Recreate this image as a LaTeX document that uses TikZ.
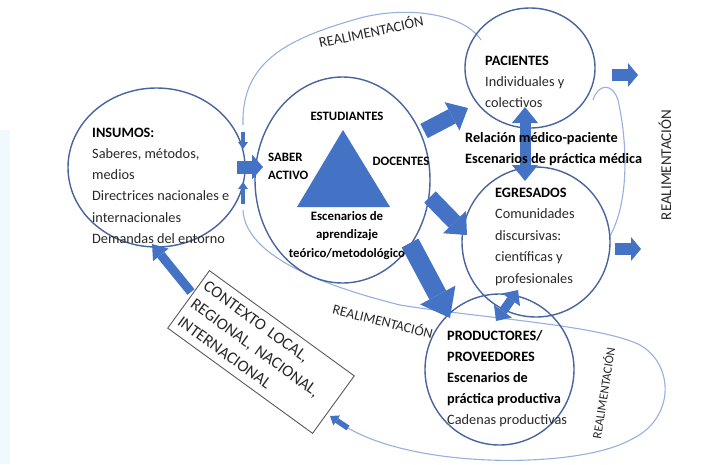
\documentclass[tikz,border=0pt]{standalone}
\usepackage{fontspec}
\setmainfont{Carlito}
\usetikzlibrary{shapes.geometric,arrows.meta}
\definecolor{ablue}{RGB}{68,114,196}
\definecolor{cline}{RGB}{72,100,158}
\definecolor{fline}{RGB}{150,176,222}
\definecolor{tgray}{RGB}{40,40,40}
\begin{document}
\begin{tikzpicture}[x=1pt,y=-1pt,
  circ/.style={draw=cline, line width=1.4pt, ellipse, inner sep=0pt},
  fb/.style={draw=fline, line width=1.1pt},
  txt/.style={anchor=base west, inner sep=0pt, text=tgray, font=\fontsize{14.3}{17}\selectfont},
  btxt/.style={anchor=base west, inner sep=0pt, text=black, font=\fontsize{14.3}{17}\selectfont\bfseries},
  mtxt/.style={anchor=base, inner sep=0pt, text=black, font=\fontsize{12.8}{15}\selectfont\bfseries},
  lbl/.style={inner sep=0pt, text=tgray, font=\fontsize{#1}{#1}\selectfont},
  barrow/.style n args={3}{draw=ablue, line width=#1, -{Triangle[width=#2, length=#3, line width=0pt]}},
  dbarrow/.style n args={3}{draw=ablue, line width=#1, {Triangle[width=#2, length=#3, line width=0pt]}-{Triangle[width=#2, length=#3, line width=0pt]}}
]
\useasboundingbox (0,0) rectangle (704,464);
\fill[cyan!6] (0,130) rectangle (10,464);

% feedback curves
\coordinate (ft0) at (243,125);
\coordinate (ft1) at (481,40);
\draw[fb] (ft0) .. controls (241,60) and (290,38) .. (360,18) .. controls (410,5) and (465,15) .. (ft1);
\coordinate (fr0) at (593,100);
\coordinate (fr1) at (610,236);
\draw[fb] (fr0) .. controls (598,84) and (612,82) .. (618,100) .. controls (627,140) and (630,200) .. (fr1);
\coordinate (fb0) at (243,210);
\coordinate (fb1) at (348,428);
\draw[fb] (fb0) .. controls (245,255) and (320,285) .. (400,305) .. controls (480,318) and (600,325) .. (640,345) .. controls (675,365) and (675,420) .. (630,440) .. controls (580,468) and (420,470) .. (fb1);

% circles
\node[circ, minimum width=177pt, minimum height=159pt] (ins) at (156.5,167.5) {};
\node[circ, minimum width=175pt, minimum height=206pt] (mid) at (342.5,180) {};
\node[circ, minimum width=130pt, minimum height=120pt] (pac) at (530,68) {};
\node[circ, minimum width=148pt, minimum height=150pt] (egr) at (536,242) {};
\node[circ, minimum width=149pt, minimum height=151pt] (prod) at (499.5,369.5) {};

% triangle
\fill[ablue] (343,130) -- (297,207) -- (390,207) -- cycle;

% context box
\node[draw=black!65, line width=0.9pt, rotate=-36, minimum width=179pt, minimum height=71pt,
      align=left, text width=169pt, inner sep=5pt, text=tgray,
      font=\fontsize{16.5}{22}\selectfont] (ctx) at (261,352)
  {CONTEXTO LOCAL,\\REGIONAL, NACIONAL,\\INTERNACIONAL};

% arrow end points
\coordinate (a1s) at (237,167);  \coordinate (a1e) at (263,167);
\coordinate (a2s) at (243,132);  \coordinate (a2e) at (243,149);
\coordinate (a3s) at (243,204);  \coordinate (a3e) at (243,182);
\coordinate (a4s) at (424,131);  \coordinate (a4e) at (468,108);
\coordinate (a5s) at (430,197);  \coordinate (a5e) at (467,235);
\coordinate (a6s) at (410,243);  \coordinate (a6e) at (450,318);
\coordinate (a7s) at (612,75);   \coordinate (a7e) at (638,75);
\coordinate (a8s) at (615,249);  \coordinate (a8e) at (641,249);
\coordinate (a9s) at (525,107);  \coordinate (a9e) at (525,181);
\coordinate (a10s) at (496,321); \coordinate (a10e) at (518,290);
\coordinate (a11s) at (191,292); \coordinate (a11e) at (152,244);
\coordinate (a12e) at (330,416);

\draw[barrow={13pt}{25pt}{11pt}] (a1s) -- (a1e);
\draw[barrow={4.5pt}{10pt}{7pt}] (a2s) -- (a2e);
\draw[barrow={4.5pt}{10pt}{7pt}] (a3s) -- (a3e);
\draw[barrow={16pt}{32pt}{18pt}] (a4s) -- (a4e);
\draw[barrow={16pt}{32pt}{18pt}] (a5s) -- (a5e);
\draw[barrow={19pt}{40pt}{26pt}] (a6s) -- (a6e);
\draw[barrow={12pt}{24pt}{10pt}] (a7s) -- (a7e);
\draw[barrow={12pt}{24pt}{10pt}] (a8s) -- (a8e);
\draw[dbarrow={11pt}{26pt}{16pt}] (a9s) -- (a9e);
\draw[dbarrow={9pt}{22pt}{12pt}] (a10s) -- (a10e);
\draw[barrow={9pt}{20pt}{14pt}] (a11s) -- (a11e);
\draw[barrow={5.5pt}{12pt}{8pt}] (fb1) -- (a12e);

% INSUMOS text
\node[btxt] (i1) at (92,137) {INSUMOS:};
\node[txt] (i2) at (92,158.5) {Saberes, métodos,};
\node[txt] (i3) at (92,179.5) {medios};
\node[txt] (i4) at (92,200.5) {Directrices nacionales e};
\node[txt] (i5) at (92,222) {internacionales};
\node[txt] (i6) at (92,243) {Demandas del entorno};

% middle circle text
\node[mtxt] (m1) at (347,120) {ESTUDIANTES};
\node[mtxt, anchor=base west] (m2) at (268,161.5) {SABER};
\node[mtxt, anchor=base west] (m3) at (268,179.5) {ACTIVO};
\node[mtxt] (m4) at (401,165.5) {DOCENTES};
\node[mtxt] (m5) at (347,220) {Escenarios de};
\node[mtxt] (m6) at (347,238.5) {aprendizaje};
\node[mtxt] (m7) at (347,257) {teórico/metodológico};

% PACIENTES
\node[btxt] (p1) at (485,65) {PACIENTES};
\node[txt] (p2) at (485,86) {Individuales y};
\node[txt] (p3) at (485,107) {colectivos};
\node[btxt] (r1) at (465,142) {Relación médico-paciente};
\node[btxt] (r2) at (465,163) {Escenarios de práctica médica};

% EGRESADOS
\node[btxt] (e1) at (495,197) {EGRESADOS};
\node[txt] (e2) at (495,218.5) {Comunidades};
\node[txt] (e3) at (495,240) {discursivas:};
\node[txt] (e4) at (495,261.5) {científicas y};
\node[txt] (e5) at (495,283) {profesionales};

% PRODUCTORES
\node[btxt] (q1) at (447,340) {PRODUCTORES/};
\node[btxt] (q2) at (447,361) {PROVEEDORES};
\node[btxt] (q3) at (447,382) {Escenarios de};
\node[btxt] (q4) at (447,403) {práctica productiva};
\node[txt] (q5) at (447,424) {Cadenas productivas};

% feedback labels
\node[lbl=14.5, rotate=12] (l1) at (371,31) {REALIMENTACIÓN};
\node[lbl=14, rotate=-14] (l2) at (383,320.5) {REALIMENTACIÓN};
\node[lbl=15, rotate=90] (l3) at (665,165) {REALIMENTACIÓN};
\node[lbl=12.5, rotate=81] (l4) at (603,393) {REALIMENTACIÓN};
\end{tikzpicture}
\end{document}
